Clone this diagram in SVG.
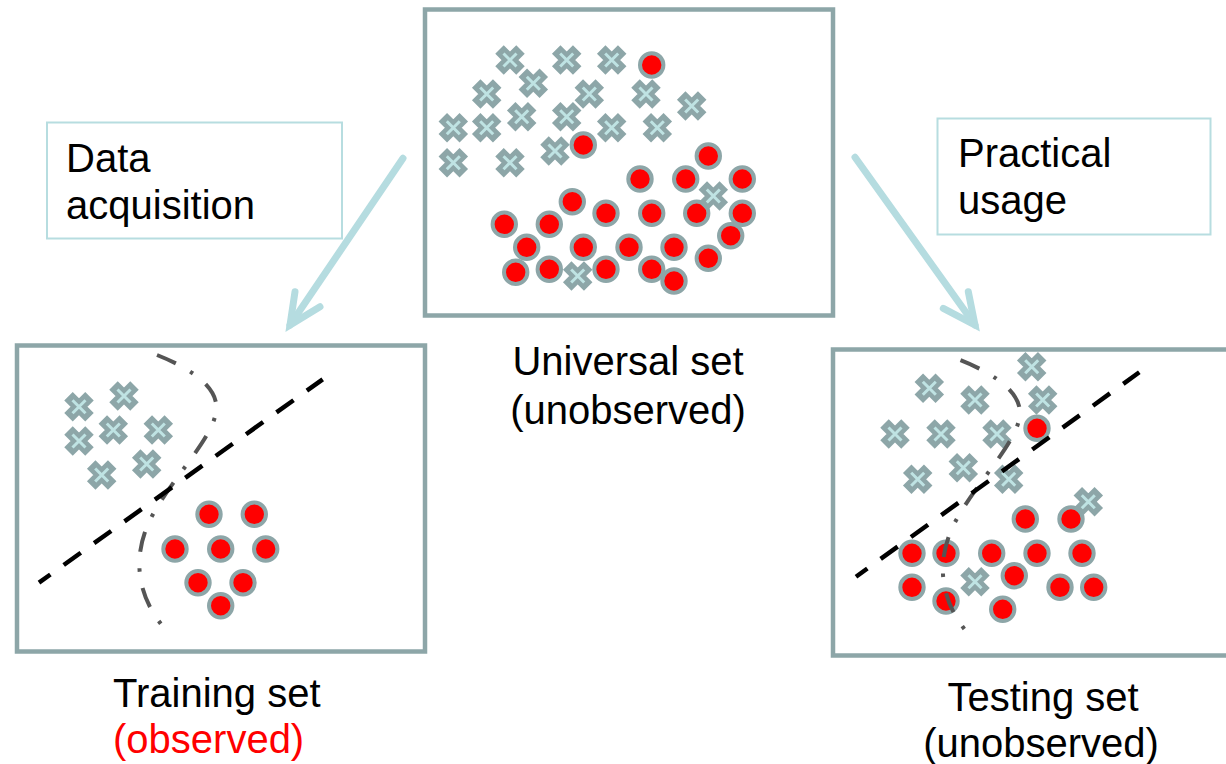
<svg xmlns="http://www.w3.org/2000/svg" xmlns:xlink="http://www.w3.org/1999/xlink" width="1226" height="764" viewBox="0 0 1226 764">
<style>
.frame{fill:#fff;stroke:#8DA6A8;stroke-width:4.5}
.lbox{fill:#fff;stroke:#B7DDE0;stroke-width:2}
.txt{font-family:"Liberation Sans",Arial,sans-serif;font-size:40px;fill:#000}
.red{fill:#FF0000}
.dot{fill:#FF0000;stroke:#8DA6A8;stroke-width:4}
.bound{fill:none;stroke:#000;stroke-width:4.5;stroke-dasharray:21 16.4}
.curve{fill:none;stroke:#555555;stroke-width:4;stroke-dasharray:20.5 16.5 3.5 16.5}
.arrow{fill:none;stroke:#B5DCE0;stroke-width:7;stroke-linecap:round;stroke-linejoin:miter}
</style>
<defs>
<g id="xm">
<path d="M-10.5,-10.5L10.5,10.5M10.5,-10.5L-10.5,10.5" stroke="#8DA6A8" stroke-width="12"/>
<path d="M-6.5,-6.5L6.5,6.5M6.5,-6.5L-6.5,6.5" stroke="#BFE3E3" stroke-width="3"/>
</g>
<circle id="cm" r="11.7" class="dot"/>
<path id="bcurve" d="M157,355 C195,370 220,390 216,412 C212,440 170,480 150,520 C133,555 135,595 166,630"/>
</defs>

<g id="universal-set">
<rect class="frame" x="425" y="9.5" width="408" height="306"/>
<use xlink:href="#xm" x="510" y="60"/>
<use xlink:href="#xm" x="566.7" y="60"/>
<use xlink:href="#xm" x="611.7" y="60"/>
<use xlink:href="#xm" x="533.3" y="83.3"/>
<use xlink:href="#xm" x="486.7" y="94"/>
<use xlink:href="#xm" x="589.3" y="94"/>
<use xlink:href="#xm" x="646" y="94"/>
<use xlink:href="#xm" x="691.7" y="106"/>
<use xlink:href="#xm" x="521.7" y="116.7"/>
<use xlink:href="#xm" x="566.7" y="116.7"/>
<use xlink:href="#xm" x="453.3" y="127.7"/>
<use xlink:href="#xm" x="486.7" y="127.7"/>
<use xlink:href="#xm" x="611.7" y="127.7"/>
<use xlink:href="#xm" x="657.3" y="127.7"/>
<use xlink:href="#xm" x="453.3" y="162.7"/>
<use xlink:href="#xm" x="510" y="162.7"/>
<use xlink:href="#xm" x="555" y="151"/>
<use xlink:href="#cm" x="651.7" y="65"/>
<use xlink:href="#cm" x="583.3" y="145"/>
<use xlink:href="#cm" x="708.3" y="156"/>
<use xlink:href="#cm" x="640" y="179"/>
<use xlink:href="#cm" x="685.7" y="179"/>
<use xlink:href="#cm" x="742.3" y="179"/>
<use xlink:href="#cm" x="572.3" y="201.7"/>
<use xlink:href="#cm" x="606" y="213.3"/>
<use xlink:href="#cm" x="651.7" y="213.3"/>
<use xlink:href="#cm" x="696.7" y="213.3"/>
<use xlink:href="#cm" x="742.3" y="213.3"/>
<use xlink:href="#cm" x="504.3" y="224.3"/>
<use xlink:href="#cm" x="549.3" y="224.3"/>
<use xlink:href="#cm" x="730.7" y="235.7"/>
<use xlink:href="#cm" x="526.7" y="247.3"/>
<use xlink:href="#cm" x="583.3" y="247.3"/>
<use xlink:href="#cm" x="629" y="247.3"/>
<use xlink:href="#cm" x="674" y="247.3"/>
<use xlink:href="#cm" x="708.3" y="258.3"/>
<use xlink:href="#cm" x="515.7" y="272.3"/>
<use xlink:href="#cm" x="549.3" y="269.3"/>
<use xlink:href="#cm" x="606" y="269.3"/>
<use xlink:href="#cm" x="651.7" y="269.3"/>
<use xlink:href="#cm" x="674" y="281"/>
<use xlink:href="#xm" x="713.3" y="196"/>
<use xlink:href="#xm" x="577.7" y="276"/>
<text class="txt" x="628" y="375" text-anchor="middle">Universal set</text>
<text class="txt" x="628" y="424" text-anchor="middle">(unobserved)</text>
</g>

<g id="training-set">
<rect class="frame" x="17" y="345.5" width="408" height="306"/>
<use xlink:href="#xm" x="79" y="406.7"/>
<use xlink:href="#xm" x="124" y="396"/>
<use xlink:href="#xm" x="79" y="441"/>
<use xlink:href="#xm" x="113.3" y="430"/>
<use xlink:href="#xm" x="158.3" y="430"/>
<use xlink:href="#xm" x="101.7" y="475"/>
<use xlink:href="#xm" x="146.7" y="464"/>
<use xlink:href="#cm" x="209" y="514.3"/>
<use xlink:href="#cm" x="254.3" y="514.3"/>
<use xlink:href="#cm" x="175" y="549"/>
<use xlink:href="#cm" x="220.7" y="549"/>
<use xlink:href="#cm" x="265.7" y="549"/>
<use xlink:href="#cm" x="198" y="582.7"/>
<use xlink:href="#cm" x="243" y="582.7"/>
<use xlink:href="#cm" x="220.7" y="605.7"/>
<use xlink:href="#bcurve" class="curve"/>
<path class="bound" d="M39,582.7L322.7,379.3" stroke-dashoffset="7"/>
<text class="txt" x="113" y="706.5">Training set</text>
<text class="txt red" x="113" y="753">(observed)</text>
</g>

<g id="testing-set">
<rect class="frame" x="833" y="349.5" width="408" height="306"/>
<use xlink:href="#xm" x="1031.7" y="366.7"/>
<use xlink:href="#xm" x="929.3" y="388.3"/>
<use xlink:href="#xm" x="975" y="400"/>
<use xlink:href="#xm" x="1042.7" y="400"/>
<use xlink:href="#xm" x="895" y="434"/>
<use xlink:href="#xm" x="941" y="434"/>
<use xlink:href="#xm" x="997" y="434"/>
<use xlink:href="#xm" x="963.3" y="467.7"/>
<use xlink:href="#xm" x="917.7" y="479.3"/>
<use xlink:href="#xm" x="1008.7" y="479.3"/>
<use xlink:href="#cm" x="1037" y="428.3"/>
<use xlink:href="#cm" x="1025.3" y="519"/>
<use xlink:href="#cm" x="1071" y="519"/>
<use xlink:href="#cm" x="912" y="553.3"/>
<use xlink:href="#cm" x="946" y="553.3"/>
<use xlink:href="#cm" x="991.7" y="553.3"/>
<use xlink:href="#cm" x="1037" y="553.3"/>
<use xlink:href="#cm" x="1082" y="553.3"/>
<use xlink:href="#cm" x="912" y="587.3"/>
<use xlink:href="#cm" x="1014.3" y="575.7"/>
<use xlink:href="#cm" x="1060" y="587.3"/>
<use xlink:href="#cm" x="1093.7" y="587.3"/>
<use xlink:href="#cm" x="946" y="601"/>
<use xlink:href="#cm" x="1002.7" y="609.3"/>
<use xlink:href="#xm" x="1088.3" y="501.7"/>
<use xlink:href="#xm" x="975" y="581.7"/>
<use xlink:href="#bcurve" class="curve" transform="translate(803.5,5.2)"/>
<path class="bound" d="M856,576.7L1139.3,372.3" stroke-dashoffset="7"/>
<text class="txt" x="1043" y="710.5" text-anchor="middle">Testing set</text>
<text class="txt" x="1041" y="757" text-anchor="middle">(unobserved)</text>
</g>

<g id="label-data-acquisition">
<rect class="lbox" x="47" y="122.5" width="295" height="116"/>
<text class="txt" x="66" y="171.5">Data</text>
<text class="txt" x="66" y="218.5">acquisition</text>
</g>

<g id="label-practical-usage">
<rect class="lbox" x="937.5" y="118.5" width="273" height="116"/>
<text class="txt" x="958" y="166.5">Practical</text>
<text class="txt" x="958" y="214">usage</text>
</g>

<g id="connectors">
<path class="arrow" d="M403,158.3L290,325"/>
<path class="arrow" d="M295,291.7L290,325L320,306.7"/>
<path class="arrow" d="M855,157.3L975,325"/>
<path class="arrow" d="M968.3,291.7L975,325L943.3,308.3"/>
</g>
</svg>
